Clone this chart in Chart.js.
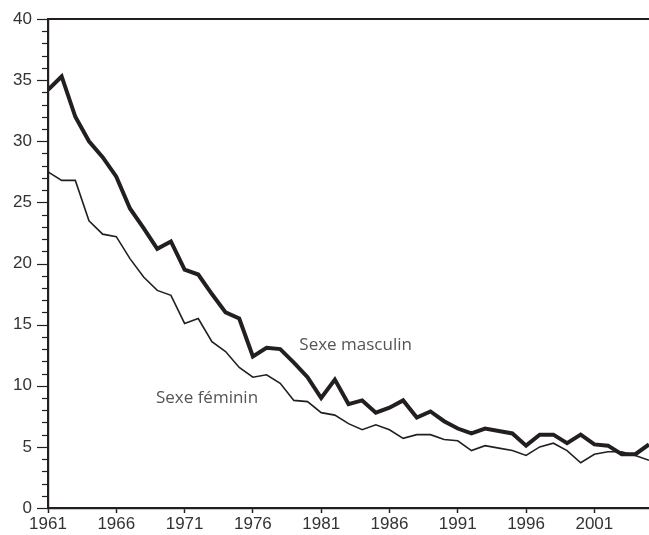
<!DOCTYPE html>
<html>
<head>
<meta charset="utf-8">
<script src="https://cdn.jsdelivr.net/npm/chart.js@4/dist/chart.umd.min.js"></script>
<style>
  html, body { margin: 0; padding: 0; background: #fff; }
  #wrap { width: 649px; height: 535px; position: relative; }
</style>
</head>
<body>
<div id="wrap"><canvas id="myChart"></canvas></div>
<script>
const years = [];
for (let y = 1961; y <= 2005; y++) years.push(y);

const masculin = [
  34.2, 35.3, 32.0, 30.0, 28.7, 27.1, 24.5, 22.9, 21.2, 21.8,
  19.5, 19.1, 17.5, 16.0, 15.5, 12.4, 13.1, 13.0, 11.9, 10.7,
  9.0, 10.5, 8.5, 8.8, 7.8, 8.2, 8.8, 7.4, 7.9, 7.1,
  6.5, 6.1, 6.5, 6.3, 6.1, 5.1, 6.0, 6.0, 5.3, 6.0,
  5.2, 5.1, 4.4, 4.4, 5.2
];
const feminin = [
  27.5, 26.8, 26.8, 23.5, 22.4, 22.2, 20.4, 18.9, 17.8, 17.4,
  15.1, 15.5, 13.6, 12.8, 11.5, 10.7, 10.9, 10.2, 8.8, 8.7,
  7.8, 7.6, 6.9, 6.4, 6.8, 6.4, 5.7, 6.0, 6.0, 5.6,
  5.5, 4.7, 5.1, 4.9, 4.7, 4.3, 5.0, 5.3, 4.7, 3.7,
  4.4, 4.6, 4.6, 4.3, 3.9
];
const xTicks = [1961, 1966, 1971, 1976, 1981, 1986, 1991, 1996, 2001];
const seriesLabels = [
  { text: 'Sexe masculin', x: 1979.4, y: 13.3 },
  { text: 'Sexe féminin', x: 1968.9, y: 9.0 }
];

const ink = '#231f20';

// minor/major y ticks, top border, in-chart labels
const extras = {
  id: 'extras',
  afterDraw(chart) {
    const ctx = chart.ctx;
    const xs = chart.scales.x, ys = chart.scales.y;
    const area = chart.chartArea;
    ctx.save();
    ctx.strokeStyle = ink;
    ctx.lineWidth = 1.2;
    for (let v = 0; v <= 40; v++) {
      const py = Math.round(ys.getPixelForValue(v)) + 0.5;
      const len = v % 5 === 0 ? 11 : 6;
      ctx.beginPath();
      ctx.moveTo(area.left - len, py);
      ctx.lineTo(area.left, py);
      ctx.stroke();
    }
    ctx.lineWidth = 2.2;
    ctx.beginPath();
    ctx.moveTo(area.left - 1, area.top);
    ctx.lineTo(chart.width, area.top);
    ctx.stroke();

    ctx.fillStyle = '#555';
    ctx.font = '17px "Liberation Sans Narrow", "Open Sans", sans-serif';
    ctx.textBaseline = 'middle';
    ctx.textAlign = 'left';
    seriesLabels.forEach(l => {
      ctx.fillText(l.text, xs.getPixelForValue(l.x), ys.getPixelForValue(l.y));
    });
    ctx.restore();
  }
};

new Chart('myChart', {
  type: 'line',
  data: {
    labels: years,
    datasets: [{
      label: 'Sexe masculin',
      data: years.map((y, i) => ({ x: y, y: masculin[i] })),
      borderColor: ink,
      borderWidth: 4,
      pointRadius: 0,
      tension: 0,
      fill: false
    }, {
      label: 'Sexe féminin',
      data: years.map((y, i) => ({ x: y, y: feminin[i] })),
      borderColor: ink,
      borderWidth: 1.6,
      pointRadius: 0,
      tension: 0,
      fill: false
    }]
  },
  options: {
    responsive: true,
    maintainAspectRatio: false,
    animation: false,
    layout: { padding: { top: 19, right: 0, left: 0, bottom: 0 } },
    plugins: { legend: { display: false }, tooltip: { enabled: false } },
    scales: {
      x: {
        type: 'linear',
        min: 1961,
        max: 2005,
        afterBuildTicks: s => { s.ticks = xTicks.map(v => ({ value: v })); },
        afterFit: s => { s.height = 27; s.paddingLeft = 0; s.paddingRight = 0; },
        grid: { drawOnChartArea: false, tickLength: 5, tickColor: ink, tickWidth: 1.5 },
        border: { display: true, color: ink, width: 2.2 },
        ticks: {
          color: '#333',
          font: { family: '"Liberation Sans", Arial, sans-serif', size: 17 },
          padding: 1,
          maxRotation: 0,
          autoSkip: false,
          callback: v => String(v)
        }
      },
      y: {
        min: 0,
        max: 40,
        afterFit: s => { s.width = 48; s.paddingTop = 0; s.paddingBottom = 0; },
        grid: { drawOnChartArea: false, drawTicks: false },
        border: { display: true, color: ink, width: 2.2 },
        ticks: {
          stepSize: 5,
          color: '#333',
          font: { family: '"Liberation Sans", Arial, sans-serif', size: 17 },
          padding: 16
        }
      }
    }
  },
  plugins: [extras]
});
</script>
</body>
</html>
